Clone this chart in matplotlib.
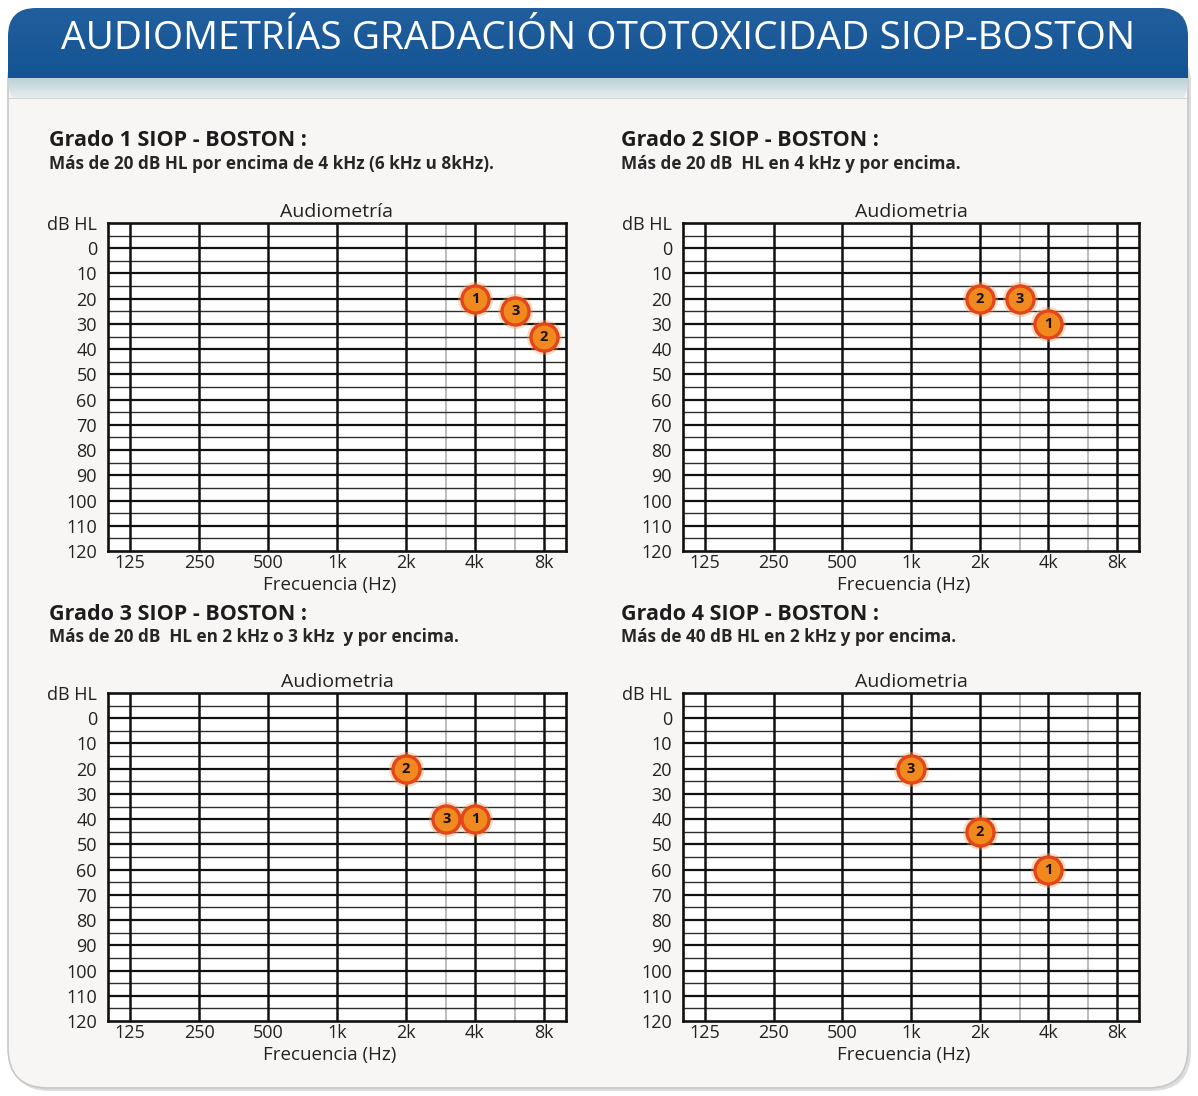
import matplotlib.pyplot as plt
import numpy as np
from matplotlib.patches import FancyBboxPatch, Rectangle

W, H = 1198, 1096

title = "AUDIOMETRÍAS GRADACIÓN OTOTOXICIDAD SIOP-BOSTON"
headings = ["Grado 1 SIOP - BOSTON :", "Grado 2 SIOP - BOSTON :",
            "Grado 3 SIOP - BOSTON :", "Grado 4 SIOP - BOSTON :"]
notes = ["Más de 20 dB HL por encima de 4 kHz (6 kHz u 8kHz).",
         "Más de 20 dB  HL en 4 kHz y por encima.",
         "Más de 20 dB  HL en 2 kHz o 3 kHz  y por encima.",
         "Más de 40 dB HL en 2 kHz y por encima."]
chart_titles = ["Audiometría", "Audiometria", "Audiometria", "Audiometria"]

freq_ticks = [125, 250, 500, 1000, 2000, 4000, 8000]
freq_labels = ["125", "250", "500", "1k", "2k", "4k", "8k"]
half_octaves = [3000, 6000]
db_ticks = list(range(-10, 121, 10))
db_labels = ["dB HL"] + [str(v) for v in range(0, 121, 10)]

point_ids = ["1", "2", "3"]
g1_freq = [4000, 8000, 6000]
g1_db = [20, 35, 25]
g2_freq = [4000, 2000, 3000]
g2_db = [30, 20, 20]
g3_freq = [4000, 2000, 3000]
g3_db = [40, 20, 40]
g4_freq = [4000, 2000, 1000]
g4_db = [60, 45, 20]
grades = [(g1_freq, g1_db), (g2_freq, g2_db), (g3_freq, g3_db), (g4_freq, g4_db)]

plt.rcParams['font.family'] = ['Open Sans', 'DejaVu Sans']

fig = plt.figure(figsize=(W / 100, H / 100), dpi=100)
fig.patch.set_facecolor("white")

# background card drawn in pixel coordinates
bg = fig.add_axes([0, 0, 1, 1], zorder=-5)
bg.set_xlim(0, W)
bg.set_ylim(H, 0)
bg.axis("off")

# soft shadow then the card itself
bg.add_patch(FancyBboxPatch((10, 44), W - 17, H - 49, boxstyle="round,pad=0,rounding_size=40",
                            fc="#a0a0a0", ec="none", alpha=0.35))
card = FancyBboxPatch((8, 40), W - 18, H - 48, boxstyle="round,pad=0,rounding_size=40",
                      fc="#f8f5f5", ec="#c8c8c8", lw=1.2)
bg.add_patch(card)

head = FancyBboxPatch((8, 8), W - 18, 100, boxstyle="round,pad=0,rounding_size=28",
                      fc="none", ec="none")
bg.add_patch(head)
grad = np.linspace(0, 1, 100).reshape(-1, 1)
top_c = np.array([0.13, 0.37, 0.62])
bot_c = np.array([0.08, 0.33, 0.58])
img = top_c + (bot_c - top_c) * grad[..., None]
im = bg.imshow(img, extent=(8, W - 10, 78, 8), aspect="auto", zorder=1)
im.set_clip_path(head)

band = np.linspace(0, 1, 50).reshape(-1, 1)
b_top = np.array([0.74, 0.82, 0.84])
b_bot = np.array([0.90, 0.93, 0.93])
bimg = b_top + (b_bot - b_top) * band[..., None]
bim = bg.imshow(bimg, extent=(8, W - 10, 98, 78), aspect="auto", zorder=1)
bim.set_clip_path(head)
bg.plot([8, W - 10], [98.5, 98.5], color="#c9cccc", lw=1.2, zorder=2)
bg.add_patch(Rectangle((9, 99), W - 20, 20, fc="#f8f5f5", ec="none", zorder=2))

bg.text(W / 2 - 1, 39, title, color="white", fontsize=28, ha="center", va="center", zorder=3)

# panel positions: left, top, right, bottom (pixels)
boxes = [(108, 223, 566, 551), (683, 223, 1139, 551),
         (108, 693, 566, 1021), (683, 693, 1139, 1021)]
head_pos = [(49, 141), (621, 141), (49, 614), (621, 614)]

for i, (l, t, r, b) in enumerate(boxes):
    hx, hy = head_pos[i]
    bg.text(hx, hy, headings[i], fontsize=15.5, fontweight="bold", color="#1c1c1c",
            ha="left", va="center")
    bg.text(hx, hy + 23, notes[i], fontsize=12.3, fontweight="bold", color="#262626",
            ha="left", va="center")

    ax = fig.add_axes([l / W, 1 - b / H, (r - l) / W, (b - t) / H])
    ax.set_facecolor("white")
    ax.set_xscale("log")
    ax.set_xlim(100, 10000)
    ax.set_ylim(120, -10)

    for v in range(-5, 120, 5):
        if v % 10 == 0:
            ax.axhline(v, color="#111111", lw=1.6, zorder=1)
        else:
            ax.axhline(v, color="#2e2e2e", lw=1.0, zorder=1)
    for f in freq_ticks:
        ax.axvline(f, color="#111111", lw=1.8, zorder=1)
    for f in half_octaves:
        ax.axvline(f, color="#b8b8b8", lw=1.3, zorder=0.9)

    ax.set_xticks(freq_ticks)
    ax.set_xticklabels(freq_labels)
    ax.xaxis.set_minor_locator(plt.NullLocator())
    ax.set_yticks(db_ticks)
    ax.set_yticklabels(db_labels)
    ax.tick_params(length=0, labelsize=13, colors="#222222")
    ax.tick_params(axis="y", pad=8)
    ax.tick_params(axis="x", pad=2)
    for s in ax.spines.values():
        s.set_linewidth(1.9)
        s.set_color("#111111")

    ax.set_title(chart_titles[i], fontsize=14, color="#222222", pad=4)
    ax.set_xlabel("Frecuencia (Hz)", fontsize=13.5, color="#222222", labelpad=0)
    ax.xaxis.set_label_coords(0.485, -0.075)

    freqs, dbs = grades[i]
    ax.scatter(freqs, dbs, s=640, color="#f5a05a", alpha=0.35, lw=0, zorder=4, clip_on=False)
    ax.scatter(freqs, dbs, s=380, color="#f08a1e", edgecolors="#e2461a", lw=2.4,
               zorder=5, clip_on=False)
    for f, d, pid in zip(freqs, dbs, point_ids):
        ax.text(f, d, pid, fontsize=10.5, fontweight="bold", color="#1a1208",
                ha="center", va="center", zorder=6)

fig.savefig("out.png", dpi=100, facecolor="white")
